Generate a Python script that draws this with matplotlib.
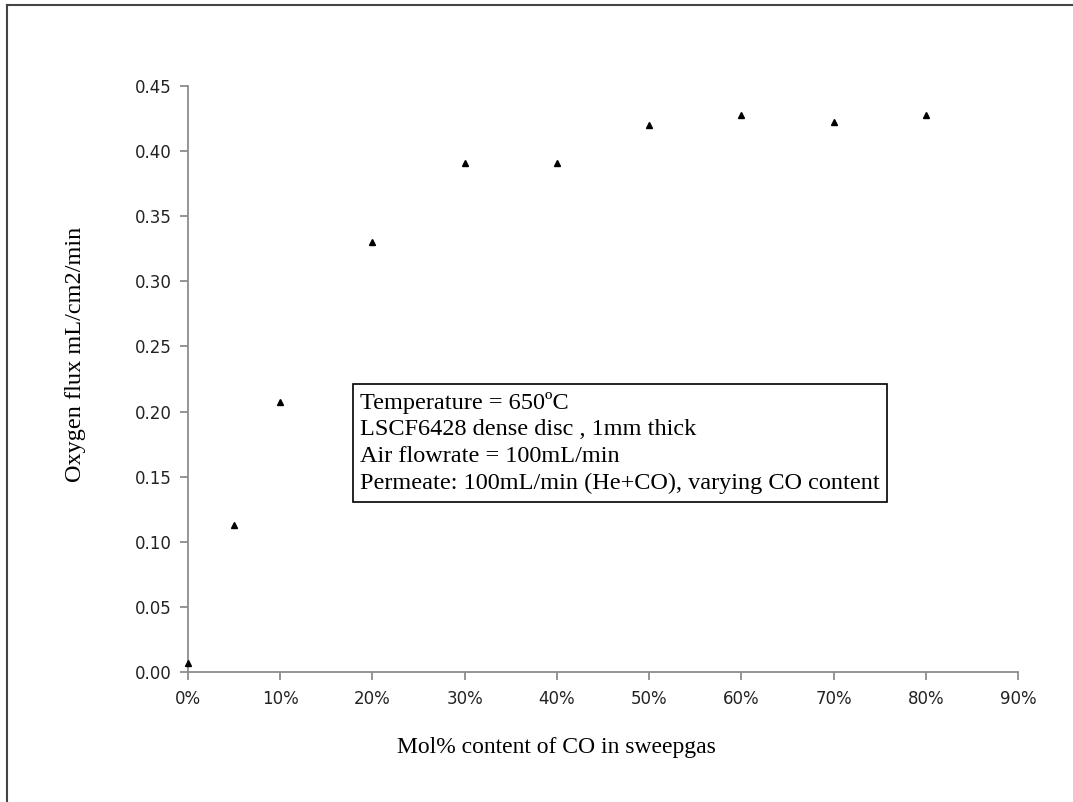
import matplotlib
matplotlib.use("Agg")
import matplotlib.pyplot as plt
from matplotlib.lines import Line2D
from matplotlib.ticker import FuncFormatter, MultipleLocator

# CO content in the sweep gas (fraction) and measured oxygen flux
co_content = [0.0, 0.05, 0.10, 0.20, 0.30, 0.40, 0.50, 0.60, 0.70, 0.80]
oxygen_flux = [0.007, 0.113, 0.207, 0.330, 0.391, 0.391, 0.420, 0.428, 0.422, 0.428]

x_label = "Mol% content of CO in sweepgas"
y_label = "Oxygen flux mL/cm2/min"
notes = ["Temperature = 650\u00baC",
         "LSCF6428 dense disc , 1mm thick",
         "Air flowrate = 100mL/min",
         "Permeate: 100mL/min (He+CO), varying CO content"]

W, H = 1073, 802
fig = plt.figure(figsize=(W / 100, H / 100), dpi=100)
ax = fig.add_axes([188 / W, 1 - 672 / H, (1018 - 188) / W, (672 - 86) / H])

ax.plot(co_content, oxygen_flux, linestyle="none", marker="^",
        color="black", markersize=4.5, clip_on=False, zorder=3)

ax.set_xlim(0, 0.9)
ax.set_ylim(0, 0.45)
ax.xaxis.set_major_locator(MultipleLocator(0.1))
ax.yaxis.set_major_locator(MultipleLocator(0.05))
ax.xaxis.set_major_formatter(FuncFormatter(lambda v, p: f"{v * 100:.0f}%"))
ax.yaxis.set_major_formatter(FuncFormatter(lambda v, p: f"{v:.2f}"))

axis_gray = "#8c8c8c"
for side in ("top", "right"):
    ax.spines[side].set_visible(False)
for side in ("left", "bottom"):
    ax.spines[side].set_color(axis_gray)
    ax.spines[side].set_linewidth(1.3)
ax.tick_params(direction="out", length=6, width=1.3, color=axis_gray,
               labelsize=12, labelcolor="#222222")
ax.tick_params(axis="y", pad=6)
ax.tick_params(axis="x", pad=7)
for lbl in ax.get_xticklabels() + ax.get_yticklabels():
    lbl.set_fontfamily("DejaVu Sans")

serif = "Liberation Serif"
fig.text(556 / W, 1 - 748 / H, x_label, ha="center", va="center",
         fontsize=17, family=serif)
fig.text(75 / W, 1 - 354 / H, y_label, ha="center", va="center",
         rotation=90, fontsize=17.5, family=serif)

# Annotation box with the test conditions
fig.text(360 / W, 1 - 443 / H, "\n".join(notes), ha="left", va="center",
         fontsize=17.5, family=serif, linespacing=1.36,
         bbox=dict(boxstyle="square,pad=0.3", facecolor="white",
                   edgecolor="black", linewidth=1.2))

# Outer frame lines along the top and left edges
fig.add_artist(Line2D([7 / W, 1], [1 - 5 / H, 1 - 5 / H],
                      transform=fig.transFigure, color="#444444", linewidth=1.5))
fig.add_artist(Line2D([7 / W, 7 / W], [0, 1 - 5 / H],
                      transform=fig.transFigure, color="#444444", linewidth=1.5))

fig.savefig("out.png", dpi=100)
